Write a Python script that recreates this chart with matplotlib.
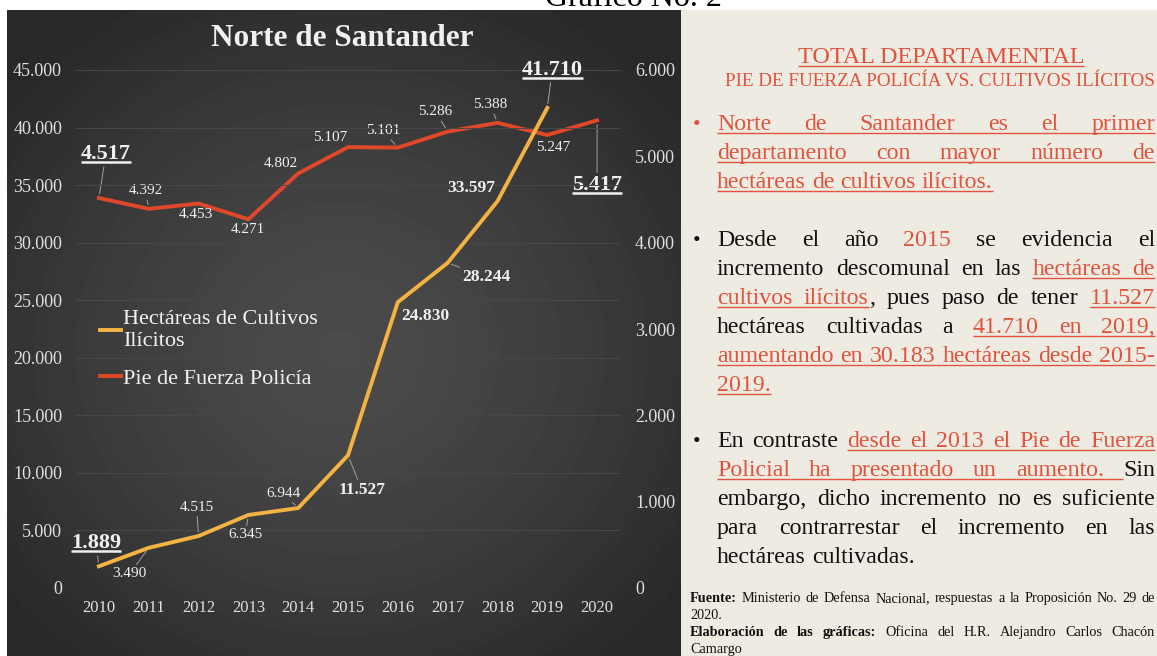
import numpy as np
import matplotlib
matplotlib.use("Agg")
import matplotlib.pyplot as plt
from matplotlib.patches import Rectangle
from matplotlib.text import Text

plt.rcParams['font.family'] = 'serif'
plt.rcParams['font.serif'] = ['Liberation Serif', 'DejaVu Serif']

# ---- data ----
years = [2010, 2011, 2012, 2013, 2014, 2015, 2016, 2017, 2018, 2019, 2020]
hectareas = [1889, 3490, 4515, 6345, 6944, 11527, 24830, 28244, 33597, 41710, np.nan]
policia = [4517, 4392, 4453, 4271, 4802, 5107, 5101, 5286, 5388, 5247, 5417]
ticks_hectareas = [0, 5000, 10000, 15000, 20000, 25000, 30000, 35000, 40000, 45000]
ticks_policia = [0, 1000, 2000, 3000, 4000, 5000, 6000]

chart_title = 'Norte de Santander'
name_hect = 'Hectáreas de Cultivos\nIlícitos'
name_pol = 'Pie de Fuerza Policía'

# label placement per point: (dx px, dy px, kind, leader line)
hect_lbl = [(-3, 23, 'big', True), (-19, -26, 'n', True), (-2, 29, 'n', True),
            (-3, -20, 'n', True), (-15, 15, 'n', True), (14, -35, 'b', True),
            (27, -14, 'b', False), (39, -14, 'b', True), (-26, 13, 'b', False),
            (5, 38, 'big', True), None]
pol_lbl = [(7, 44, 'big', True), (-3, 18, 'n', True), (-3, -11, 'n', False),
           (0, -10, 'n', False), (-17, 10, 'n', False), (-18, 10, 'n', False),
           (-15, 17, 'n', True), (-12, 20, 'n', True), (-7, 18, 'n', True),
           (6, -12, 'n', False), (0, -65, 'big', True)]

W, H = 1157, 656
RED = '#e2533b'
INK = '#111111'

fig = plt.figure(figsize=(W / 100, H / 100), dpi=100, facecolor='white')
renderer = fig.canvas.get_renderer()

# background: dark gradient panel on the left, beige panel on the right
bg = fig.add_axes([0, 0, 1, 1], zorder=-1)
yy, xx = np.mgrid[10:656, 7:681]
r = np.hypot((xx - 340) / 430.0, (yy - 350) / 400.0)
shade = 0.295 - 0.135 * np.clip(r, 0, 1) ** 1.4
bg.imshow(shade, cmap='gray', vmin=0, vmax=1, extent=(7, 681, 656, 10),
          aspect='auto', interpolation='bilinear')
bg.add_patch(Rectangle((681, 10), W - 681, H - 10, facecolor='#eeebe3', edgecolor='none'))
bg.set_xlim(0, W)
bg.set_ylim(H, 0)
bg.axis('off')

# ---- the chart ----
ax = fig.add_axes([76 / W, (H - 588) / H, 544 / W, 518 / H])
ax2 = ax.twinx()
ax.set_zorder(ax2.get_zorder() + 1)
ax.patch.set_visible(False)
ax2.patch.set_visible(False)

line_h, = ax.plot(years, hectareas, color='#f3b343', lw=2.8, label=name_hect)
line_p, = ax2.plot(years, policia, color='#e0482b', lw=2.8, label=name_pol)

ax.set_xlim(2009.54, 2020.46)
ax.set_ylim(0, 45000)
ax2.set_ylim(0, 6000)
ax.set_xticks(years)
ax.set_yticks(ticks_hectareas)
ax2.set_yticks(ticks_policia)


def miles(v, pos=None):
    return f'{v:,.0f}'.replace(',', '.')


ax.yaxis.set_major_formatter(miles)
ax2.yaxis.set_major_formatter(miles)
for a in (ax, ax2):
    for s in a.spines.values():
        s.set_visible(False)
    a.tick_params(length=0, colors='#e0e0e0', labelsize=13)
ax.tick_params(axis='y', pad=10)
ax2.tick_params(axis='y', pad=10.8)
ax.tick_params(axis='x', pad=8.4, labelsize=12)
ax.grid(axis='y', color='#484848', lw=0.7)
ax.set_axisbelow(True)

leg = ax.legend(handles=[line_h, line_p], loc='upper left',
                bbox_to_anchor=(100 / W, 1 - 310 / H), bbox_transform=fig.transFigure,
                frameon=False, fontsize=16, handlelength=0.95, handletextpad=0.1,
                labelspacing=0.8, borderpad=0, borderaxespad=0)
for t in leg.get_texts():
    t.set_color('#f2f2f2')


def put_labels(axis, values, specs):
    big = []
    for yr, v, spec in zip(years, values, specs):
        if spec is None or np.isnan(v):
            continue
        dx, dy, kind, leader = spec
        size = {'n': 11, 'b': 12.5, 'big': 16}[kind]
        kw = {}
        if leader:
            kw['arrowprops'] = dict(arrowstyle='-', color='#a0a0a0', lw=0.7,
                                    shrinkA=0, shrinkB=3)
        a = axis.annotate(miles(v), (yr, v), xytext=(dx, dy), textcoords='offset pixels',
                          ha='center', va='center', fontsize=size,
                          fontweight='normal' if kind == 'n' else 'bold',
                          color='#f0f0f0', annotation_clip=False, **kw)
        if kind == 'big':
            big.append(a)
    return big


big_labels = put_labels(ax, hectareas, hect_lbl) + put_labels(ax2, policia, pol_lbl)

# overlay in pixel coordinates for titles, underlines and the text panel
fg = fig.add_axes([0, 0, 1, 1], zorder=5)
fg.set_xlim(0, W)
fg.set_ylim(H, 0)
fg.axis('off')

fg.text(342, 38, chart_title, ha='center', va='center', fontsize=22.5,
        fontweight='bold', color='#f0f0f0')


def text_width(s, size, bold=False):
    t = fg.text(0, 0, s, fontsize=size, fontweight='bold' if bold else 'normal')
    w = t.get_window_extent(renderer).width
    t.remove()
    return w


def underline(x0, x1, y, color, lw=1.0):
    fg.plot([x0, x1], [y, y], color=color, lw=lw, solid_capstyle='butt')


# top caption, mostly cut off by the page
cap = 'Gráfico No. 2'
fg.text(633, 6, cap, ha='center', va='baseline', color='black',
        fontsize=20 * 177 / text_width(cap, 20))

# panel heading
head1 = 'TOTAL DEPARTAMENTAL'
head2 = 'PIE DE FUERZA POLICÍA VS. CULTIVOS ILÍCITOS'
s1 = 17 * 286 / text_width(head1, 17)
fg.text(941, 63, head1, ha='center', va='baseline', fontsize=s1, color=RED)
w1 = text_width(head1, s1)
underline(941 - w1 / 2, 941 + w1 / 2, 65.5, RED)
s2 = 13 * 430 / text_width(head2, 13)
fg.text(725, 86, head2, ha='left', va='baseline', fontsize=s2, color=RED)

STYLE = {'k': (INK, False, False), 'r': (RED, False, False), 'ru': (RED, True, False),
         'rux': (RED, True, False), 'b': (INK, False, True)}


def words_of(segs):
    words = [[]]
    for txt, st in segs:
        for j, p in enumerate(txt.split(' ')):
            if j > 0:
                words.append([])
            if p:
                words[-1].append((p, st))
    return [w for w in words if w]


def put_line(segs, y, x0, x1, size, justify):
    words = words_of(segs)
    placed, widths = [], []
    for w in words:
        pieces, tot = [], 0
        for p, st in w:
            col, ul, bold = STYLE[st]
            t = fg.text(0, y, p, fontsize=size, color=col, va='baseline', ha='left',
                        fontweight='bold' if bold else 'normal')
            pw = t.get_window_extent(renderer).width
            pieces.append((t, pw, st))
            tot += pw
        placed.append(pieces)
        widths.append(tot)
    if justify and len(words) > 1:
        gap = (x1 - x0 - sum(widths)) / (len(words) - 1)
    else:
        gap = text_width('a a', size) - text_width('aa', size)
    x = x0
    prev = None
    uy = y + size * 0.19
    for i, pieces in enumerate(placed):
        if i > 0:
            nxt = pieces[0][2]
            if prev is not None and prev.startswith('ru') and (nxt.startswith('ru') or prev == 'rux'):
                underline(x, x + gap, uy, RED)
            x += gap
        for t, pw, st in pieces:
            t.set_x(x)
            if STYLE[st][1]:
                underline(x, x + pw, uy, RED)
            x += pw
        prev = pieces[-1][2]


bullets = [
    (RED, 130, [
        ([('Norte de Santander es el primer', 'ru')], True),
        ([('departamento con mayor número de', 'ru')], True),
        ([('hectáreas de cultivos ilícitos.', 'ru')], False),
    ]),
    (INK, 246, [
        ([('Desde el año ', 'k'), ('2015', 'r'), (' se evidencia el', 'k')], True),
        ([('incremento descomunal en las ', 'k'), ('hectáreas de', 'ru')], True),
        ([('cultivos ilícitos', 'ru'), (', pues paso de tener ', 'k'), ('11.527', 'ru')], True),
        ([('hectáreas cultivadas a ', 'k'), ('41.710 en 2019,', 'ru')], True),
        ([('aumentando en 30.183 hectáreas desde 2015-', 'ru')], True),
        ([('2019.', 'ru')], False),
    ]),
    (INK, 447, [
        ([('En contraste ', 'k'), ('desde el 2013 el Pie de Fuerza', 'ru')], True),
        ([('Policial ha presentado un ', 'ru'), ('aumento.', 'rux'), (' Sin', 'k')], True),
        ([('embargo, dicho incremento no es suficiente', 'k')], True),
        ([('para contrarrestar el incremento en las', 'k')], True),
        ([('hectáreas cultivadas.', 'k')], False),
    ]),
]

body = 17 * 198 / text_width('hectáreas cultivadas.', 17)
for dot_col, y0, lines in bullets:
    fg.text(693, y0, '•', fontsize=body * 0.9, color=dot_col, va='baseline', ha='left')
    for k, (segs, just) in enumerate(lines):
        put_line(segs, y0 + 29 * k, 717, 1155, body, just)

foot = 10 * 52 / text_width('Camargo', 10)
footer = [
    ([('Fuente:', 'b'), (' Ministerio de Defensa Nacional, respuestas a la Proposición No. 29 de', 'k')], True),
    ([('2020.', 'k')], False),
    ([('Elaboración de las gráficas:', 'b'), (' Oficina del H.R. Alejandro Carlos Chacón', 'k')], True),
    ([('Camargo', 'k')], False),
]
for k, (segs, just) in enumerate(footer):
    put_line(segs, 602 + 17 * k, 690, 1155, foot, just)

# underline the highlighted chart labels
fig.canvas.draw()
for a in big_labels:
    bb = Text.get_window_extent(a, renderer)
    underline(bb.x0, bb.x1, H - bb.y0 - 2, '#f0f0f0', lw=1.8)

fig.savefig('out.png', dpi=100, facecolor='white')
